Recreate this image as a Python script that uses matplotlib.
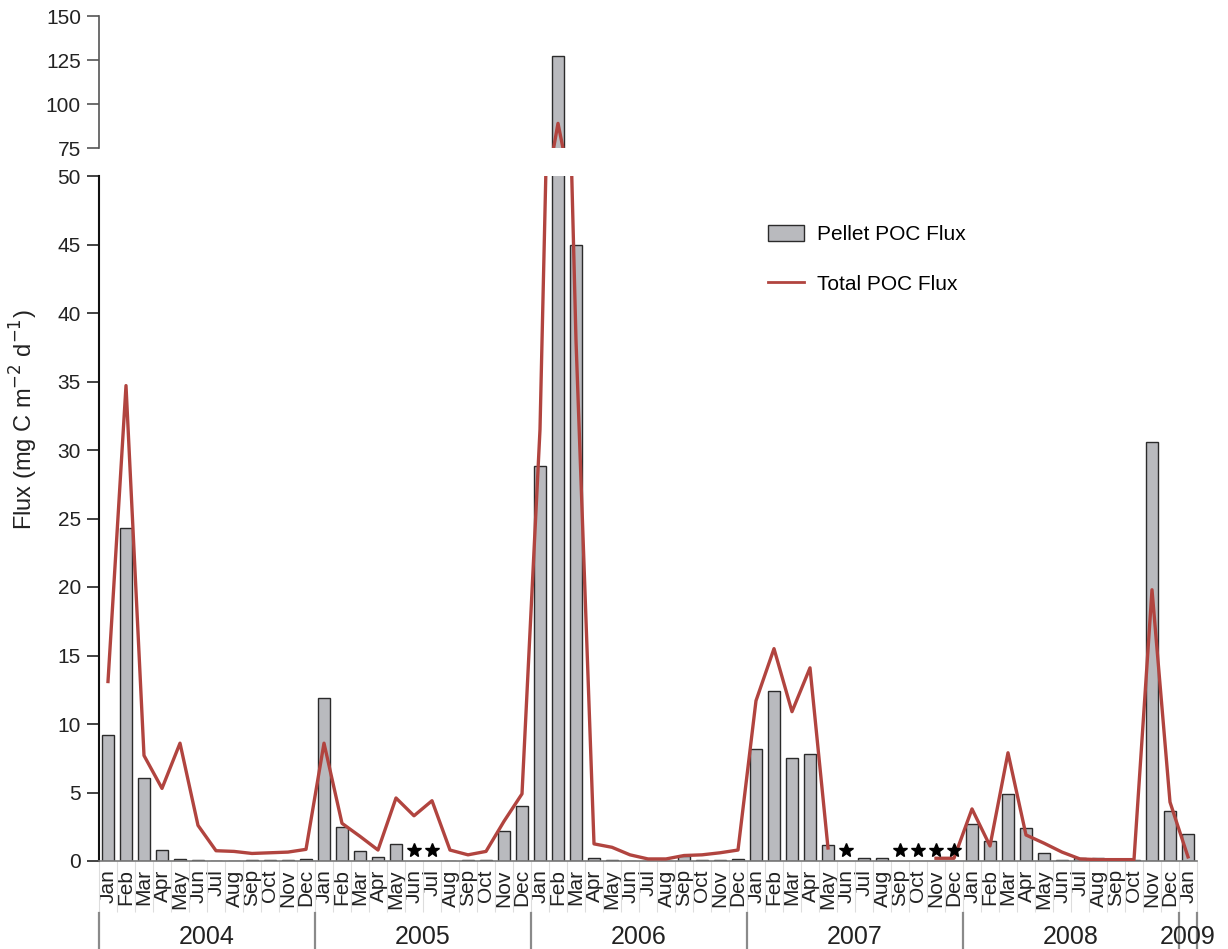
import numpy as np
import matplotlib
matplotlib.use('Agg')
import matplotlib.pyplot as plt
import matplotlib.transforms as mtransforms
from matplotlib.lines import Line2D
from matplotlib.patches import Patch

plt.rcParams['font.family'] = ['Liberation Sans', 'DejaVu Sans']

months = ['Jan', 'Feb', 'Mar', 'Apr', 'May', 'Jun',
          'Jul', 'Aug', 'Sep', 'Oct', 'Nov', 'Dec'] * 5 + ['Jan']
years = ['2004', '2005', '2006', '2007', '2008', '2009']

nan = np.nan
# pellet POC flux (bars), Jan 2004 .. Jan 2009
pellet = [9.2, 24.3, 6.05, 0.8, 0.15, 0.05, 0.02, 0.02, 0.05, 0.05, 0.05, 0.15,
          11.9, 2.5, 0.7, 0.3, 1.25, nan, nan, 0.03, 0.1, 0.1, 2.2, 4.0,
          28.8, 127.5, 45.0, 0.2, 0.05, 0.03, 0.02, 0.03, 0.4, 0.1, 0.1, 0.15,
          8.2, 12.4, 7.5, 7.8, 1.15, nan, 0.2, 0.2, nan, nan, nan, nan,
          2.7, 1.45, 4.9, 2.4, 0.55, 0.05, 0.2, 0.2, 0.03, 0.1, 30.6, 3.65,
          1.95]
# total POC flux (line)
total = [13.1, 34.7, 7.7, 5.3, 8.6, 2.6, 0.75, 0.7, 0.55, 0.6, 0.65, 0.85,
         8.6, 2.75, 1.8, 0.8, 4.6, 3.3, 4.4, 0.8, 0.45, 0.7, 2.9, 4.9,
         31.5, 89.0, 38.0, 1.25, 1.0, 0.45, 0.15, 0.15, 0.4, 0.45, 0.6, 0.8,
         11.7, 15.5, 10.9, 14.1, 0.95, nan, nan, nan, nan, nan, 0.2, 0.2,
         3.8, 1.1, 7.9, 1.9, 1.3, 0.65, 0.15, 0.1, 0.1, 0.1, 19.8, 4.3,
         0.3]
# months without pellet data
star_idx = [17, 18, 41, 44, 45, 46, 47]

x = np.arange(len(months))
bar_col = '#b9babe'
line_col = '#b1443f'

fig = plt.figure(figsize=(12.28, 9.49), dpi=100)
W, H = 1228, 949
x0, x1 = 99 / W, 1197 / W
ax_top = fig.add_axes([x0, 1 - 148 / H, x1 - x0, 132 / H])
ax = fig.add_axes([x0, 1 - 861 / H, x1 - x0, 685 / H])

for a in (ax_top, ax):
    a.bar(x, pellet, width=0.72, color=bar_col, edgecolor='#2b2b2b', linewidth=1.0, zorder=2)
    a.plot(x, total, color=line_col, linewidth=2.4, zorder=3)
    a.set_xlim(-0.5, len(months) - 0.5)
    a.spines['top'].set_visible(False)
    a.spines['right'].set_visible(False)
    a.tick_params(axis='y', direction='out', length=9, width=1.2, labelsize=15,
                  colors='#222222', pad=4)

ax_top.set_ylim(75, 150)
ax_top.set_yticks([75, 100, 125, 150])
ax_top.spines['bottom'].set_visible(False)
ax_top.spines['left'].set_color('#555555')
ax_top.spines['left'].set_linewidth(1.2)
ax_top.tick_params(axis='y', color='#555555')
ax_top.set_xticks([])

ax.set_ylim(0, 50)
ax.set_yticks(np.arange(0, 51, 5))
ax.spines['left'].set_color('#111111')
ax.spines['left'].set_linewidth(1.5)
ax.spines['bottom'].set_color('#777777')
ax.spines['bottom'].set_linewidth(1.2)

ax.plot(star_idx, [0.8] * len(star_idx), linestyle='none', marker='*',
        color='black', markersize=10, zorder=4)

ax.set_xticks(x)
ax.set_xticklabels(months, rotation=90, fontsize=15, color='#222222')
ax.tick_params(axis='x', length=0, pad=6)
ax.set_xticks(np.arange(-0.5, len(months), 1), minor=True)
ax.tick_params(axis='x', which='minor', length=37, width=0.8, color='#dddddd')

# year separators and labels below month labels
trans = mtransforms.blended_transform_factory(ax.transData, fig.transFigure)
y_lo, y_hi = 0.0, 1 - 913 / H
for b in [-0.5, 11.5, 23.5, 35.5, 47.5, 59.5, 60.5]:
    fig.add_artist(Line2D([b, b], [y_lo, y_hi], transform=trans,
                          color='#8a8a8a', linewidth=1.6))
year_pos = [5.5, 17.5, 29.5, 41.5, 53.5, 60]
for yr, p in zip(years, year_pos):
    fig.text(p, 1 - 937 / H, yr, transform=trans, ha='center', va='center',
             fontsize=18, color='#222222')

fig.text(24 / W, 1 - 420 / H, 'Flux (mg C m$^{-2}$ d$^{-1}$)', rotation=90,
         ha='center', va='center', fontsize=17, color='#222222')

handles = [Patch(facecolor=bar_col, edgecolor='#2b2b2b', linewidth=1.0),
           Line2D([], [], color=line_col, linewidth=2.0)]
ax.legend(handles, ['Pellet POC Flux', 'Total POC Flux'], frameon=False,
          loc='upper left', bbox_to_anchor=(749 / W, 1 - 206 / H),
          bbox_transform=fig.transFigure, fontsize=15, handlelength=1.75,
          handleheight=0.85, labelspacing=1.45, handletextpad=0.6)

fig.savefig('out.png', dpi=100)
